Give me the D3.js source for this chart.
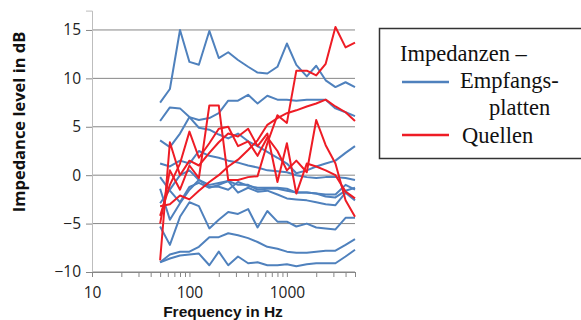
<!DOCTYPE html>
<html lang="en">
	<head>
		<meta charset="utf-8">
		<title>Impedanzen</title>
		<script type="text/javascript" src="https://d3js.org/d3.v7.min.js"></script>
		<style type="text/css">
			body {
				margin: 0;
				background-color: #ffffff;
			}
			.tick text {
				font-family: "Open Sans", "Liberation Sans", Arial, sans-serif;
				font-size: 15.5px;
				fill: #222;
			}
		</style>
	</head>
	<body>
		<script type="text/javascript">

			// Third-octave band centre frequencies (Hz)
			var freqs = [50, 63, 80, 100, 125, 160, 200, 250, 315, 400, 500, 630, 800, 1000, 1250, 1600, 2000, 2500, 3150, 4000, 5000];

			// Impedanzen - Empfangsplatten (blue), level in dB
			var platten = [
				[7.5, 8.9, 15.0, 11.7, 11.4, 14.9, 12.1, 12.7, 11.9, 11.2, 10.6, 10.5, 11.2, 13.6, 11.4, 10.2, 11.3, 9.8, 9.1, 9.6, 9.1],
				[3.6, 2.9, 4.3, 6.0, 5.7, 5.9, 6.4, 7.7, 7.7, 8.3, 7.4, 8.2, 7.8, 7.8, 7.7, 7.8, 7.8, 7.8, 6.9, 6.5, 6.1],
				[5.6, 7.0, 6.9, 6.0, 4.9, 4.7, 4.2, 3.8, 4.3, 3.5, 3.0, 2.4, 1.8, 1.2, 0.2, 0.5, 0.9, 1.2, 1.5, 2.3, 3.0],
				[1.2, 0.9, 1.5, 1.2, 2.5, 2.0, 1.8, 1.5, 1.3, 1.0, 0.8, 0.5, 0.4, 0.3, 0.0, -0.2, -0.3, -0.2, -0.2, -0.3, -0.5],
				[-0.2, -1.6, -2.8, -1.2, -0.8, -1.3, -1.0, -0.6, -1.0, -1.0, -1.5, -1.4, -1.4, -1.6, -1.8, -1.8, -1.9, -2.2, -2.3, -1.6, -1.3],
				[-1.4, -4.6, -2.9, -1.5, -0.5, -1.2, -1.2, -1.5, -0.7, -1.1, -1.3, -1.3, -1.3, -1.4, -1.8, -1.8, -1.9, -2.0, -2.0, -1.0, -1.5],
				[-2.9, -1.5, 0.0, 0.5, -0.5, -1.0, -0.8, -0.6, -1.8, -1.3, -1.7, -1.6, -2.0, -2.4, -2.5, -2.6, -2.8, -3.0, -3.1, -1.8, -2.6],
				[-5.3, -7.2, -4.3, -2.8, -3.2, -5.5, -4.6, -3.8, -4.0, -3.5, -5.4, -3.7, -4.8, -4.8, -5.3, -5.0, -5.4, -5.5, -5.6, -4.4, -4.4],
				[-9.0, -8.2, -7.9, -7.9, -7.4, -6.4, -6.4, -6.0, -6.2, -6.5, -6.9, -7.4, -7.6, -7.9, -8.0, -8.0, -7.9, -7.8, -7.8, -7.2, -6.6],
				[-9.0, -8.6, -8.3, -8.2, -8.1, -9.3, -7.9, -9.3, -8.4, -9.1, -9.0, -9.3, -9.3, -9.2, -9.4, -9.2, -9.1, -9.1, -9.1, -8.4, -7.7]
			];

			// Impedanzen - Quellen (red), level in dB
			var quellen = [
				[-5.0, 0.5, -1.5, 1.0, -0.3, 7.2, 7.2, -0.5, -0.5, -0.2, -0.1, 3.3, 6.2, 5.4, 10.8, 10.8, 10.3, 11.5, 15.3, 13.2, 13.7],
				[-3.2, -3.0, -2.1, -2.5, -1.6, -0.7, 0.0, 0.9, 1.6, 2.6, 3.6, 5.2, 5.9, 6.4, 6.7, 7.1, 7.4, 7.8, 7.1, 6.5, 5.6],
				[-8.8, 3.4, 0.0, 1.5, 1.0, 2.3, 3.4, 4.3, 4.0, 4.8, 3.0, 4.3, -0.7, 3.3, -1.9, 1.2, 0.9, 0.5, 0.0, -1.7, -2.4],
				[-4.2, -1.0, 1.2, 4.5, 1.8, 3.3, 4.8, 5.0, 3.0, 3.5, 2.0, 3.9, 2.5, 0.5, 1.5, 0.3, 5.7, 3.1, 1.2, -2.6, -4.3]
			];

			var yTicks = [-10, -5, 0, 5, 10, 15];
			var xLabels = [10, 100, 1000];

			var legendTitle = "Impedanzen \u2013";
			var legendItems = [
				{ lines: ["Empfangs-", "platten"], color: "#4F81BD" },
				{ lines: ["Quellen"], color: "#EE1C25" }
			];

			//Width and height
			var w = 581;
			var h = 320;

			var x = d3.scaleLog()
				.domain([10, 5000])
				.range([92, 355]);

			var y = d3.scaleLinear()
				.domain([-10, 17])
				.range([272, 10.6]);

			//Create SVG element
			var svg = d3.select("body")
				.append("svg")
				.attr("width", w)
				.attr("height", h);

			// Horizontal gridlines
			svg.append("g")
				.selectAll("line")
				.data(yTicks)
				.enter()
				.append("line")
				.attr("x1", x(10))
				.attr("x2", x(5000))
				.attr("y1", function(d) { return y(d); })
				.attr("y2", function(d) { return y(d); })
				.style("stroke", "#878787")
				.style("stroke-width", 1);

			// Y axis
			var yAxis = svg.append("g")
				.attr("transform", "translate(" + x(10) + ",0)")
				.call(d3.axisLeft(y)
					.tickValues(yTicks)
					.tickSize(6)
					.tickPadding(5));
			yAxis.select(".domain").style("stroke", "#bdbdbd");
			yAxis.selectAll(".tick line").style("stroke", "#878787");

			// X axis (log, with minor ticks)
			var xAxis = svg.append("g")
				.attr("transform", "translate(0," + y(-10) + ")")
				.call(d3.axisBottom(x)
					.ticks(10)
					.tickSize(5)
					.tickPadding(10)
					.tickSizeOuter(0)
					.tickFormat(function(d) { return xLabels.indexOf(d) >= 0 ? d : ""; }));
			xAxis.select(".domain").style("stroke", "#878787");
			xAxis.selectAll(".tick line").style("stroke", "#878787");

			// Axis titles
			svg.append("text")
				.attr("transform", "translate(25," + y(5.5) + ") rotate(-90)")
				.attr("text-anchor", "middle")
				.attr("font-family", "Open Sans, Liberation Sans, Arial, sans-serif")
				.attr("font-weight", "bold")
				.attr("font-size", "16.5px")
				.attr("fill", "#111")
				.text("Impedance level in dB");

			svg.append("text")
				.attr("x", 223)
				.attr("y", 316.5)
				.attr("text-anchor", "middle")
				.attr("font-family", "Liberation Sans, Arial, sans-serif")
				.attr("font-weight", "bold")
				.attr("font-size", "15.5px")
				.attr("fill", "#111")
				.text("Frequency in Hz");

			//Line generator
			var line = d3.line()
				.x(function(d, i) { return x(freqs[i]); })
				.y(function(d) { return y(d); });

			svg.append("g")
				.selectAll("path")
				.data(platten)
				.enter()
				.append("path")
				.attr("d", line)
				.style("fill", "none")
				.style("stroke", legendItems[0].color)
				.style("stroke-width", 2)
				.style("stroke-linejoin", "round");

			svg.append("g")
				.selectAll("path")
				.data(quellen)
				.enter()
				.append("path")
				.attr("d", line)
				.style("fill", "none")
				.style("stroke", legendItems[1].color)
				.style("stroke-width", 2)
				.style("stroke-linejoin", "round");

			// Legend
			var legend = svg.append("g")
				.attr("font-family", "Liberation Serif, Times New Roman, serif")
				.attr("font-size", "22.5px")
				.attr("fill", "#111");

			legend.append("rect")
				.attr("x", 379.5)
				.attr("y", 28.5)
				.attr("width", 210)
				.attr("height", 130)
				.style("fill", "#fff")
				.style("stroke", "#333")
				.style("stroke-width", 1.5);

			legend.append("text")
				.attr("x", 400)
				.attr("y", 61)
				.text(legendTitle);

			// Empfangsplatten entry
			legend.append("line")
				.attr("x1", 402).attr("x2", 449)
				.attr("y1", 82).attr("y2", 82)
				.style("stroke", legendItems[0].color)
				.style("stroke-width", 2.5);
			legend.append("text")
				.attr("x", 460)
				.attr("y", 88)
				.text(legendItems[0].lines[0]);
			legend.append("text")
				.attr("x", 489)
				.attr("y", 115)
				.text(legendItems[0].lines[1]);

			// Quellen entry
			legend.append("line")
				.attr("x1", 402).attr("x2", 449)
				.attr("y1", 135).attr("y2", 135)
				.style("stroke", legendItems[1].color)
				.style("stroke-width", 2.5);
			legend.append("text")
				.attr("x", 462)
				.attr("y", 143)
				.text(legendItems[1].lines[0]);

		</script>
	</body>
</html>
